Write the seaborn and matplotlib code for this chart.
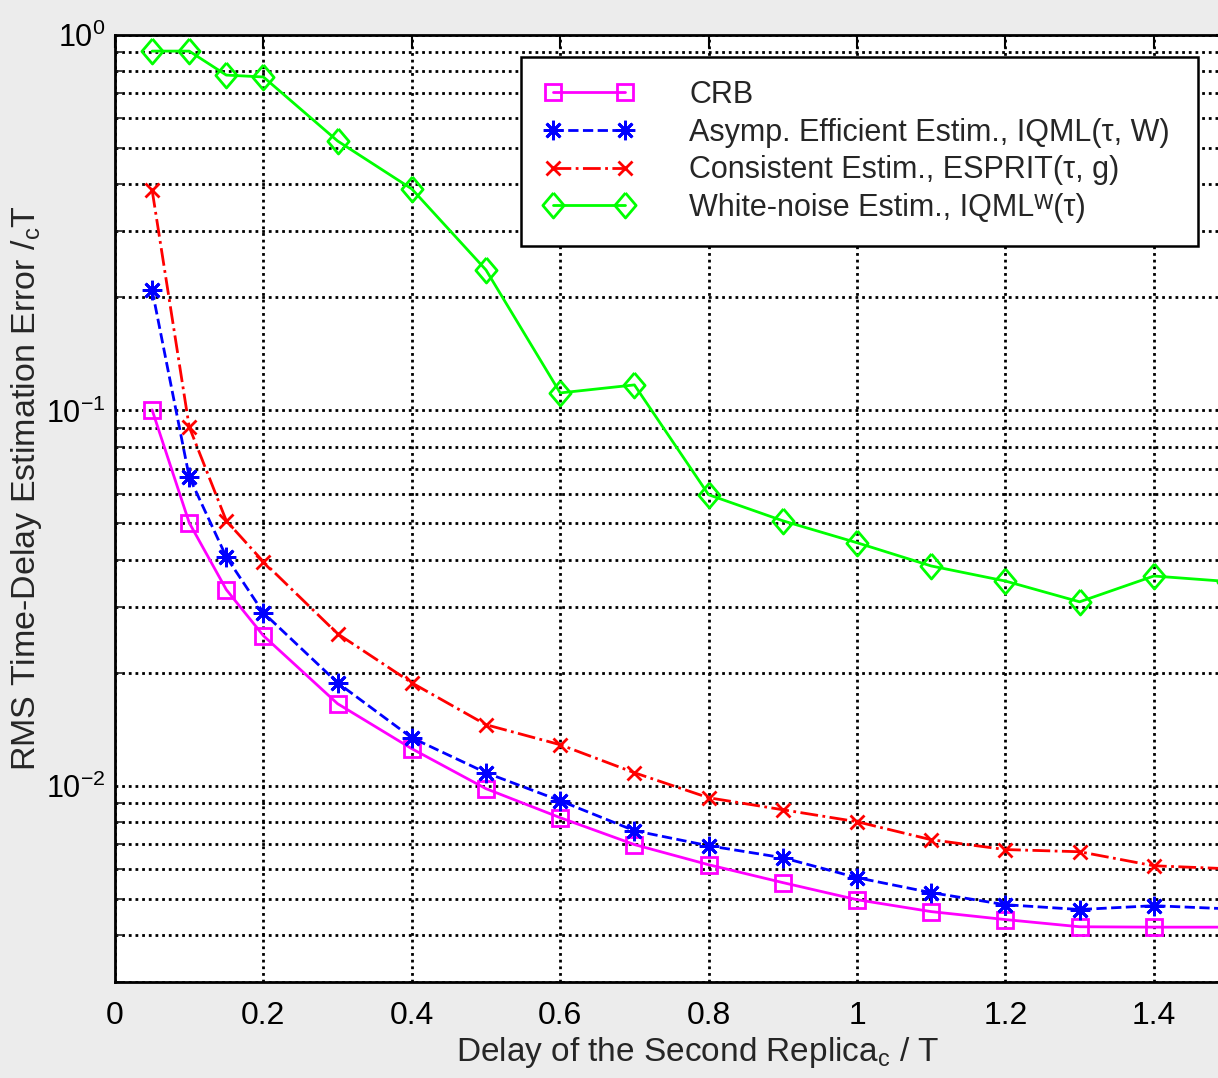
import numpy as np
import matplotlib
matplotlib.use("Agg")
import matplotlib.pyplot as plt
import seaborn as sns
from matplotlib.ticker import LogLocator, LogFormatterSciNotation, FixedLocator, NullFormatter

sns.set_style("white")
plt.rcParams['font.family'] = ['Liberation Sans', 'DejaVu Sans']
plt.rcParams['mathtext.fontset'] = 'custom'
plt.rcParams['mathtext.rm'] = 'Liberation Sans'
plt.rcParams['mathtext.it'] = 'Liberation Sans:italic'
plt.rcParams['mathtext.bf'] = 'Liberation Sans:bold'
plt.rcParams['axes.unicode_minus'] = False

# ---- data ----
delay = [0.05, 0.1, 0.15, 0.2, 0.3, 0.4, 0.5, 0.6, 0.7, 0.8, 0.9, 1.0, 1.1, 1.2, 1.3, 1.4, 1.5]
crb = [0.1003, 0.0502, 0.0333, 0.0251, 0.01654, 0.01255, 0.00982, 0.00822, 0.00697, 0.00616,
       0.00552, 0.00497, 0.00462, 0.00440, 0.00421, 0.00420, 0.00420]
asymp = [0.2094, 0.0665, 0.0407, 0.0289, 0.0188, 0.01342, 0.01083, 0.00912, 0.00759, 0.00692,
         0.00643, 0.00569, 0.00519, 0.00482, 0.00468, 0.00479, 0.00470]
esprit = [0.3865, 0.0904, 0.0508, 0.0395, 0.0254, 0.0188, 0.01454, 0.01286, 0.01083, 0.00929,
          0.00863, 0.00802, 0.00718, 0.00676, 0.00667, 0.00612, 0.00601]
white = [0.906, 0.906, 0.782, 0.773, 0.522, 0.389, 0.2366, 0.1113, 0.1169, 0.0596,
         0.0508, 0.0444, 0.0385, 0.0351, 0.0309, 0.0362, 0.0350]

labels = ["CRB",
          "Asymp. Efficient Estim., IQML(\u03c4, W)",
          "Consistent Estim., ESPRIT(\u03c4, g)",
          "White-noise Estim., IQML\u1d42(\u03c4)"]
x_ticks = [0, 0.2, 0.4, 0.6, 0.8, 1.0, 1.2, 1.4]
x_tick_labels = ["0", "0.2", "0.4", "0.6", "0.8", "1", "1.2", "1.4"]

W, H = 1218, 1078
fig = plt.figure(figsize=(W / 100, H / 100), dpi=100)
bg = '#ececec'
fig.patch.set_facecolor(bg)

left, right, top, bottom = 115, 1228, 35, 982
ax = fig.add_axes([left / W, 1 - bottom / H, (right - left) / W, (bottom - top) / H])
ax.set_facecolor('white')
ax.set_yscale('log')
ax.set_xlim(0, 1.5)
ax.set_ylim(3.0e-3, 1.0)

diamond = [(0, 1), (0.85, 0), (0, -1), (-0.85, 0), (0, 1)]
styles = [
    dict(color='#ff00ff', linestyle='-', marker='s', markersize=12),
    dict(color='#0000ff', linestyle='--', marker=(8, 2, 0), markersize=14),
    dict(color='#ff0000', linestyle='-.', marker='x', markersize=10),
    dict(color='#00ff00', linestyle='-', marker=diamond, markersize=18),
]
series = [crb, asymp, esprit, white]
for ys, st, lab in zip(series, styles, labels):
    sns.lineplot(x=delay, y=ys, ax=ax, color=st['color'], linestyle=st['linestyle'],
                 marker=st['marker'], markersize=st['markersize'],
                 markerfacecolor='none', markeredgecolor=st['color'], markeredgewidth=2,
                 linewidth=2.0, label=lab, estimator=None, sort=False, zorder=3)

# grid
ax.xaxis.set_major_locator(FixedLocator(x_ticks))
ax.set_xticklabels(x_tick_labels)
ax.yaxis.set_major_locator(LogLocator(base=10, numticks=10))
ax.yaxis.set_minor_locator(LogLocator(base=10, subs=np.arange(2, 10), numticks=20))
ax.yaxis.set_major_formatter(LogFormatterSciNotation())
ax.yaxis.set_minor_formatter(NullFormatter())
dot = (0, (1, 1.4))
ax.grid(True, which='major', axis='both', color='black', linestyle=dot, linewidth=2.0, zorder=1)
ax.grid(True, which='minor', axis='y', color='black', linestyle=dot, linewidth=2.0, zorder=1)
ax.set_axisbelow(True)

for s in ax.spines.values():
    s.set_color('black')
    s.set_linewidth(2.0)
ax.tick_params(axis='both', which='major', direction='in', length=9, width=1.5,
               top=True, right=True, labelsize=23, colors='black')
ax.tick_params(axis='x', which='major', pad=14)
ax.tick_params(axis='y', which='major', pad=7, labelsize=22)
ax.tick_params(axis='y', which='minor', direction='in', length=5, width=1.2, right=True, left=True)

# labels
fig.text(698 / W, 1 - 1052 / H, "Delay of the Second Replic$\\mathrm{a}_{\\mathrm{c}}$ / T",
         fontsize=24, ha='center', va='center')
fig.text(27 / W, 1 - 488 / H, "RMS Time-Delay Estimation Error /$_{\\mathrm{c}}$T",
         fontsize=24.5, rotation=90, ha='center', va='center')

# legend
handles, labs = ax.get_legend_handles_labels()
leg = ax.legend(handles, labs, loc='upper left', numpoints=2,
                bbox_to_anchor=(521 / W, 1 - 57 / H, (1198 - 521) / W, 0.0),
                bbox_transform=fig.transFigure, mode='expand', borderaxespad=0,
                fontsize=22, handlelength=2.95, handletextpad=1.8, labelspacing=0.25,
                borderpad=0.75, fancybox=False, frameon=True, framealpha=1,
                edgecolor='black', facecolor='white')
leg.get_frame().set_linewidth(1.8)

fig.savefig("out.png", dpi=100, facecolor=bg)
